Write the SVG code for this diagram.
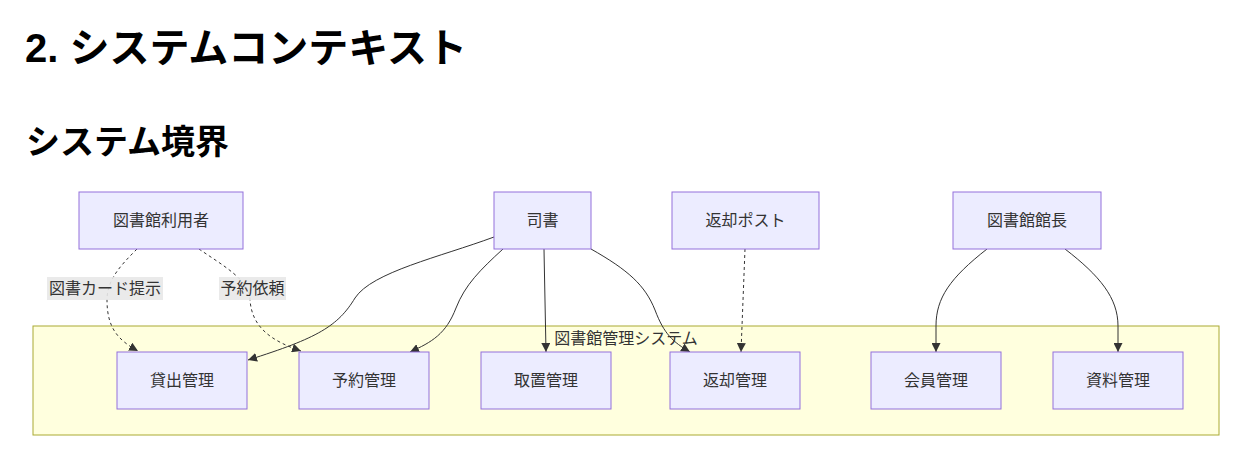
<svg xmlns="http://www.w3.org/2000/svg" width="1250" height="476" viewBox="0 0 1250 476">
<style>
.h{font-family:"Liberation Sans","Noto Sans CJK JP",sans-serif;font-weight:bold;fill:#000}
.n rect{fill:#ECECFF;stroke:#9370DB;stroke-width:1}
.t{font-family:"Noto Sans CJK JP","Liberation Sans",sans-serif;font-size:16px;fill:#333;text-anchor:middle}
.e{fill:none;stroke:#333;stroke-width:1}
.d{stroke-dasharray:3 3}
.lb{fill:#e8e8e8;opacity:0.9}
</style>
<defs>
<marker id="a" viewBox="0 0 10 10" refX="10" refY="5" markerWidth="9" markerHeight="9" markerUnits="userSpaceOnUse" orient="auto">
<path d="M0,0 L10,5 L0,10 z" fill="#333"/>
</marker>
</defs>
<rect width="1250" height="476" fill="#fff"/>
<text class="h" x="25" y="62" font-size="40">2. システムコンテキスト</text>
<text class="h" x="26" y="154" font-size="34">システム境界</text>

<g id="system">
<rect x="33" y="326" width="1186" height="109" fill="#ffffde" stroke="#aaaa33" stroke-width="1"/>
<text class="t" x="626" y="344">図書館管理システム</text>
</g>

<g id="connectors">
<path class="e d" d="M137,249 C120,266 107,280 107,300 C107,328 118,340 138,351" marker-end="url(#a)"/>
<path class="e d" d="M199,249 C222,265 250,280 250,300 C252,328 272,341 301,351" marker-end="url(#a)"/>
<path class="e" d="M494,237 C440,257 372,272 355,298 C338,326 318,338 248,360" marker-end="url(#a)"/>
<path class="e" d="M503,249 C480,270 465,285 456,308 C446,334 432,342 410,352" marker-end="url(#a)"/>
<path class="e" d="M544,249 L546,352" marker-end="url(#a)"/>
<path class="e" d="M591,249 C628,270 645,285 655,310 C664,334 673,342 690,352" marker-end="url(#a)"/>
<path class="e d" d="M745,249 L741,352" marker-end="url(#a)"/>
<path class="e" d="M987,249 C950,278 936,298 936,326 L936,352" marker-end="url(#a)"/>
<path class="e" d="M1065,249 C1100,276 1118,298 1118,326 L1118,352" marker-end="url(#a)"/>
<rect class="lb" x="47" y="277" width="116" height="23"/>
<text class="t" x="105" y="294">図書カード提示</text>
<rect class="lb" x="219" y="277" width="67" height="23"/>
<text class="t" x="252.5" y="294">予約依頼</text>
</g>

<g id="user" class="n"><rect x="79" y="192" width="164" height="57"/><text class="t" x="161" y="226">図書館利用者</text></g>
<g id="librarian" class="n"><rect x="494" y="192" width="97" height="57"/><text class="t" x="542.5" y="226">司書</text></g>
<g id="returnpost" class="n"><rect x="672" y="192" width="147" height="57"/><text class="t" x="745.5" y="226">返却ポスト</text></g>
<g id="director" class="n"><rect x="953" y="192" width="148" height="57"/><text class="t" x="1027" y="226">図書館館長</text></g>

<g id="lending" class="n"><rect x="117" y="352" width="130" height="57"/><text class="t" x="182" y="386">貸出管理</text></g>
<g id="reserve" class="n"><rect x="299" y="352" width="130" height="57"/><text class="t" x="364" y="386">予約管理</text></g>
<g id="hold" class="n"><rect x="481" y="352" width="130" height="57"/><text class="t" x="546" y="386">取置管理</text></g>
<g id="return" class="n"><rect x="670" y="352" width="130" height="57"/><text class="t" x="735" y="386">返却管理</text></g>
<g id="member" class="n"><rect x="871" y="352" width="130" height="57"/><text class="t" x="936" y="386">会員管理</text></g>
<g id="material" class="n"><rect x="1053" y="352" width="130" height="57"/><text class="t" x="1118" y="386">資料管理</text></g>
</svg>
